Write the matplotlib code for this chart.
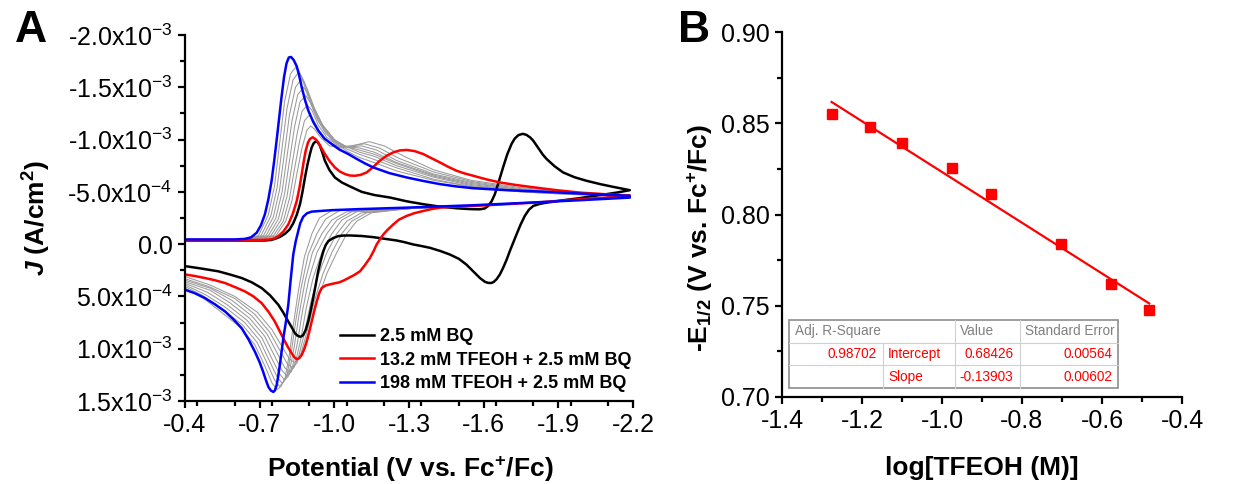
import numpy as np
import matplotlib
matplotlib.use("Agg")
import matplotlib.pyplot as plt
from matplotlib.ticker import MultipleLocator, FixedLocator, FixedFormatter, FormatStrFormatter

plt.rcParams['font.family'] = ['Liberation Sans', 'DejaVu Sans']
plt.rcParams['mathtext.fontset'] = 'custom'
plt.rcParams['mathtext.rm'] = 'Liberation Sans'
plt.rcParams['mathtext.it'] = 'Liberation Sans:italic:bold'
plt.rcParams['mathtext.bf'] = 'Liberation Sans:bold'
plt.rcParams['axes.unicode_minus'] = False

# ---------------- panel A : cyclic voltammograms (E in V, J in mA/cm2) ----------------
black_E = [-0.40, -0.72, -0.745, -0.761, -0.782, -0.802, -0.82, -0.835, -0.849, -0.862, -0.872, -0.882, -0.892,
           -0.902, -0.909, -0.917, -0.926, -0.934, -0.942, -0.952, -0.962, -0.98, -1.002, -1.03, -1.06, -1.11,
           -1.16, -1.223, -1.29, -1.357, -1.42, -1.491, -1.545, -1.585, -1.605, -1.618, -1.632, -1.645, -1.661,
           -1.678, -1.695, -1.712, -1.725, -1.74, -1.757, -1.772, -1.787, -1.799, -1.812, -1.825, -1.838, -1.853,
           -1.885, -1.919, -1.965, -2.013, -2.07, -2.12, -2.187,
           -2.14, -2.093, -2.04, -1.986, -1.92, -1.853, -1.825, -1.799, -1.782, -1.765, -1.748, -1.732, -1.718,
           -1.705, -1.692, -1.678, -1.665, -1.652, -1.64, -1.630, -1.617, -1.605, -1.585, -1.56, -1.531, -1.50,
           -1.464, -1.425, -1.384, -1.35, -1.317, -1.28, -1.25, -1.20, -1.156, -1.11, -1.063, -1.035, -1.016,
           -0.995, -0.976, -0.965, -0.956, -0.945, -0.935, -0.925, -0.915, -0.905, -0.895, -0.885, -0.875, -0.868,
           -0.862, -0.852, -0.842, -0.83, -0.815, -0.795, -0.775, -0.742, -0.708, -0.668, -0.628, -0.58, -0.534,
           -0.47, -0.40]
black_J = [-0.035, -0.035, -0.04, -0.05, -0.07, -0.10, -0.14, -0.20, -0.28, -0.382, -0.50, -0.638, -0.76,
           -0.862, -0.925, -0.965, -0.984, -0.972, -0.942, -0.875, -0.798, -0.71, -0.638, -0.59, -0.555, -0.50,
           -0.47, -0.446, -0.41, -0.382, -0.36, -0.343, -0.335, -0.333, -0.342, -0.365, -0.41, -0.478, -0.60,
           -0.734, -0.86, -0.958, -1.01, -1.043, -1.055, -1.045, -1.02, -0.99, -0.945, -0.90, -0.855, -0.814,
           -0.745, -0.686, -0.64, -0.606, -0.573, -0.548, -0.516,
           -0.495, -0.478, -0.46, -0.44, -0.42, -0.397, -0.385, -0.365, -0.33, -0.269, -0.185, -0.093, -0.01,
           0.067, 0.15, 0.228, 0.29, 0.335, 0.362, 0.372, 0.37, 0.36, 0.324, 0.265, 0.196, 0.14,
           0.099, 0.065, 0.035, 0.018, 0.003, -0.02, -0.035, -0.052, -0.067, -0.078, -0.083, -0.082, -0.077,
           -0.058, -0.029, 0.01, 0.067, 0.16, 0.26, 0.39, 0.516, 0.635, 0.74, 0.82, 0.869, 0.882,
           0.885, 0.875, 0.853, 0.80, 0.74, 0.655, 0.58, 0.49, 0.42, 0.365, 0.324, 0.29, 0.26,
           0.235, 0.21]

red_E = [-0.40, -0.70, -0.74, -0.76, -0.775, -0.795, -0.815, -0.833, -0.849, -0.86, -0.869, -0.877, -0.885,
         -0.894, -0.902, -0.913, -0.924, -0.935, -0.948, -0.962, -0.982, -1.002, -1.022, -1.043, -1.063, -1.083,
         -1.105, -1.13, -1.155, -1.183, -1.21, -1.237, -1.263, -1.29, -1.322, -1.357, -1.39, -1.424, -1.457,
         -1.491, -1.525, -1.558, -1.61, -1.665, -1.726, -1.786, -1.886, -1.986, -2.09, -2.187,
         -2.09, -1.986, -1.826, -1.60, -1.50, -1.424, -1.39, -1.357, -1.32, -1.29, -1.26, -1.237, -1.215,
         -1.197, -1.183, -1.17, -1.157, -1.143, -1.123, -1.103, -1.08, -1.06, -1.04, -1.02, -0.989, -0.965,
         -0.949, -0.939, -0.929, -0.919, -0.909, -0.899, -0.889, -0.879, -0.869, -0.859, -0.849, -0.839, -0.829,
         -0.815, -0.802, -0.782, -0.761, -0.735, -0.708, -0.675, -0.641, -0.60, -0.561, -0.52, -0.48, -0.44, -0.40]
red_J = [-0.04, -0.04, -0.045, -0.057, -0.077, -0.12, -0.189, -0.29, -0.413, -0.54, -0.67, -0.79, -0.894,
         -0.97, -1.006, -1.022, -1.005, -0.974, -0.92, -0.862, -0.79, -0.734, -0.695, -0.67, -0.656, -0.654,
         -0.662, -0.686, -0.735, -0.798, -0.845, -0.878, -0.896, -0.901, -0.89, -0.862, -0.822, -0.782, -0.74,
         -0.702, -0.675, -0.654, -0.62, -0.59, -0.567, -0.548, -0.518, -0.493, -0.477, -0.465,
         -0.445, -0.43, -0.40, -0.37, -0.36, -0.349, -0.335, -0.317, -0.295, -0.269, -0.235, -0.189, -0.14,
         -0.093, -0.045, 0.003, 0.07, 0.132, 0.20, 0.26, 0.295, 0.32, 0.345, 0.365, 0.381, 0.395,
         0.42, 0.47, 0.548, 0.64, 0.74, 0.84, 0.933, 1.005, 1.06, 1.09, 1.10, 1.08, 1.045,
         0.99, 0.933, 0.84, 0.74, 0.645, 0.564, 0.50, 0.452, 0.41, 0.372, 0.345, 0.324, 0.305, 0.29]

blue_E = [-0.40, -0.60, -0.64, -0.665, -0.688, -0.705, -0.721, -0.735, -0.748, -0.758, -0.768, -0.778, -0.788,
          -0.798, -0.808, -0.817, -0.826, -0.837, -0.849, -0.859, -0.869, -0.882, -0.895, -0.915, -0.935, -0.96,
          -0.989, -1.02, -1.056, -1.09, -1.123, -1.156, -1.22, -1.29, -1.36, -1.424, -1.49, -1.557, -1.692,
          -1.826, -1.986, -2.187,
          -2.187, -1.986, -1.786, -1.557, -1.29, -1.10, -0.989, -0.909, -0.89, -0.875, -0.863, -0.855, -0.845,
          -0.835, -0.825, -0.815, -0.805, -0.795, -0.788, -0.781, -0.774, -0.768, -0.761, -0.755, -0.745, -0.735,
          -0.725, -0.714, -0.70, -0.681, -0.655, -0.628, -0.595, -0.561, -0.52, -0.48, -0.44, -0.40]
blue_J = [-0.045, -0.045, -0.05, -0.065, -0.109, -0.18, -0.285, -0.43, -0.606, -0.79, -0.99, -1.20, -1.41,
          -1.60, -1.73, -1.785, -1.79, -1.76, -1.70, -1.61, -1.50, -1.38, -1.28, -1.17, -1.087, -1.01,
          -0.958, -0.905, -0.862, -0.815, -0.772, -0.734, -0.68, -0.638, -0.603, -0.574, -0.552, -0.535, -0.516,
          -0.503, -0.484, -0.462,
          -0.445, -0.42, -0.397, -0.372, -0.349, -0.335, -0.325, -0.311, -0.295, -0.262, -0.20, -0.125, -0.029,
          0.099, 0.33, 0.58, 0.75, 0.90, 1.03, 1.157, 1.27, 1.35, 1.40, 1.413, 1.40, 1.365,
          1.30, 1.221, 1.13, 1.029, 0.91, 0.805, 0.72, 0.644, 0.575, 0.516, 0.47, 0.436]

# intermediate TFEOH additions (grey curves), forward then reverse scan
gray_E = [
    [-0.40, -0.70, -0.765, -0.805, -0.830, -0.850, -0.870, -0.890, -0.905, -0.920, -0.945, -0.98, -1.03, -1.09, -1.14,
     -1.20, -1.28, -1.40, -1.55, -1.75, -1.95, -2.19,
     -1.90, -1.60, -1.30, -1.15, -1.09, -1.05, -1.01, -0.97, -0.935, -0.905, -0.88, -0.86, -0.84, -0.82, -0.79, -0.75,
     -0.69, -0.60, -0.50, -0.40],
    [-0.40, -0.68, -0.755, -0.795, -0.820, -0.840, -0.860, -0.880, -0.898, -0.915, -0.94, -0.975, -1.02, -1.07, -1.12,
     -1.18, -1.26, -1.40, -1.55, -1.75, -1.95, -2.19,
     -1.90, -1.60, -1.30, -1.13, -1.07, -1.03, -0.99, -0.955, -0.92, -0.892, -0.868, -0.849, -0.83, -0.81, -0.78, -0.74,
     -0.68, -0.60, -0.50, -0.40],
    [-0.40, -0.66, -0.745, -0.785, -0.810, -0.830, -0.850, -0.870, -0.892, -0.91, -0.935, -0.97, -1.01, -1.06, -1.11,
     -1.17, -1.25, -1.40, -1.55, -1.75, -1.95, -2.19,
     -1.90, -1.60, -1.30, -1.11, -1.05, -1.01, -0.97, -0.935, -0.905, -0.879, -0.856, -0.838, -0.82, -0.80, -0.77, -0.73,
     -0.67, -0.59, -0.50, -0.40],
    [-0.40, -0.65, -0.735, -0.775, -0.800, -0.820, -0.840, -0.862, -0.885, -0.905, -0.93, -0.965, -1.00, -1.05, -1.10,
     -1.16, -1.25, -1.40, -1.55, -1.75, -1.95, -2.19,
     -1.90, -1.60, -1.30, -1.09, -1.03, -0.99, -0.95, -0.915, -0.888, -0.866, -0.845, -0.827, -0.81, -0.79, -0.76, -0.72,
     -0.66, -0.58, -0.50, -0.40],
    [-0.40, -0.64, -0.725, -0.765, -0.790, -0.810, -0.830, -0.853, -0.877, -0.898, -0.925, -0.96, -1.00, -1.05, -1.10,
     -1.16, -1.25, -1.40, -1.55, -1.75, -1.95, -2.19,
     -1.90, -1.60, -1.30, -1.07, -1.01, -0.97, -0.93, -0.897, -0.872, -0.852, -0.833, -0.816, -0.80, -0.78, -0.75, -0.71,
     -0.65, -0.57, -0.49, -0.40],
    [-0.40, -0.63, -0.715, -0.755, -0.780, -0.800, -0.820, -0.844, -0.868, -0.89, -0.92, -0.955, -1.00, -1.05, -1.10,
     -1.16, -1.25, -1.40, -1.55, -1.75, -1.95, -2.19,
     -1.90, -1.60, -1.30, -1.05, -0.99, -0.95, -0.912, -0.882, -0.858, -0.839, -0.821, -0.805, -0.79, -0.77, -0.74, -0.70,
     -0.64, -0.56, -0.48, -0.40],
    [-0.40, -0.62, -0.705, -0.745, -0.770, -0.790, -0.810, -0.834, -0.858, -0.88, -0.91, -0.95, -1.00, -1.05, -1.10,
     -1.16, -1.25, -1.40, -1.55, -1.75, -1.95, -2.19,
     -1.90, -1.60, -1.30, -1.02, -0.965, -0.93, -0.895, -0.868, -0.846, -0.828, -0.811, -0.795, -0.78, -0.76, -0.73, -0.69,
     -0.63, -0.55, -0.47, -0.40],
    [-0.40, -0.61, -0.695, -0.735, -0.760, -0.780, -0.800, -0.824, -0.848, -0.87, -0.90, -0.94, -0.99, -1.05, -1.10,
     -1.16, -1.25, -1.40, -1.55, -1.75, -1.95, -2.19,
     -1.90, -1.60, -1.30, -0.99, -0.94, -0.91, -0.88, -0.856, -0.836, -0.819, -0.802, -0.786, -0.77, -0.75, -0.72, -0.68,
     -0.62, -0.54, -0.47, -0.40],
]
gray_J = [
    [-0.04, -0.04, -0.08, -0.22, -0.42, -0.68, -0.92, -1.09, -1.13, -1.10, -1.02, -0.94, -0.92, -0.95, -0.98,
     -0.94, -0.84, -0.71, -0.61, -0.54, -0.50, -0.47,
     -0.41, -0.375, -0.34, -0.30, -0.22, -0.10, 0.08, 0.28, 0.52, 0.78, 0.98, 1.09, 1.13, 1.10, 0.98, 0.82,
     0.65, 0.50, 0.39, 0.31],
    [-0.04, -0.04, -0.08, -0.22, -0.44, -0.72, -0.98, -1.18, -1.23, -1.19, -1.08, -0.98, -0.93, -0.94, -0.96,
     -0.92, -0.82, -0.69, -0.60, -0.53, -0.49, -0.465,
     -0.41, -0.375, -0.34, -0.30, -0.22, -0.10, 0.08, 0.28, 0.54, 0.82, 1.03, 1.14, 1.18, 1.14, 1.01, 0.84,
     0.67, 0.52, 0.41, 0.33],
    [-0.04, -0.04, -0.08, -0.23, -0.46, -0.76, -1.05, -1.27, -1.33, -1.28, -1.14, -1.02, -0.95, -0.93, -0.94,
     -0.90, -0.80, -0.67, -0.59, -0.52, -0.49, -0.465,
     -0.41, -0.375, -0.34, -0.30, -0.22, -0.10, 0.08, 0.30, 0.56, 0.86, 1.08, 1.18, 1.22, 1.18, 1.04, 0.86,
     0.69, 0.54, 0.42, 0.345],
    [-0.04, -0.04, -0.08, -0.24, -0.48, -0.80, -1.12, -1.36, -1.42, -1.35, -1.20, -1.06, -0.98, -0.93, -0.92,
     -0.88, -0.78, -0.66, -0.58, -0.52, -0.49, -0.465,
     -0.41, -0.375, -0.34, -0.31, -0.23, -0.10, 0.08, 0.32, 0.60, 0.90, 1.12, 1.22, 1.26, 1.21, 1.07, 0.88,
     0.71, 0.56, 0.44, 0.36],
    [-0.04, -0.04, -0.08, -0.25, -0.50, -0.84, -1.18, -1.43, -1.50, -1.42, -1.25, -1.10, -0.99, -0.93, -0.90,
     -0.86, -0.77, -0.65, -0.57, -0.51, -0.48, -0.46,
     -0.41, -0.375, -0.34, -0.31, -0.23, -0.10, 0.08, 0.34, 0.64, 0.94, 1.16, 1.26, 1.30, 1.24, 1.10, 0.90,
     0.73, 0.58, 0.46, 0.375],
    [-0.04, -0.04, -0.08, -0.26, -0.52, -0.88, -1.24, -1.50, -1.58, -1.49, -1.30, -1.13, -1.00, -0.93, -0.88,
     -0.84, -0.75, -0.64, -0.56, -0.51, -0.48, -0.46,
     -0.41, -0.375, -0.34, -0.31, -0.23, -0.10, 0.08, 0.36, 0.68, 0.98, 1.20, 1.29, 1.33, 1.27, 1.12, 0.92,
     0.75, 0.60, 0.48, 0.39],
    [-0.04, -0.04, -0.08, -0.27, -0.54, -0.92, -1.30, -1.57, -1.65, -1.55, -1.34, -1.15, -1.00, -0.91, -0.86,
     -0.81, -0.73, -0.62, -0.55, -0.50, -0.475, -0.46,
     -0.41, -0.375, -0.34, -0.32, -0.24, -0.10, 0.10, 0.40, 0.72, 1.02, 1.24, 1.32, 1.36, 1.30, 1.14, 0.94,
     0.77, 0.62, 0.49, 0.405],
    [-0.04, -0.04, -0.08, -0.28, -0.56, -0.96, -1.36, -1.63, -1.70, -1.59, -1.37, -1.16, -1.00, -0.89, -0.83,
     -0.78, -0.70, -0.61, -0.55, -0.50, -0.475, -0.46,
     -0.41, -0.375, -0.34, -0.32, -0.25, -0.10, 0.12, 0.44, 0.76, 1.06, 1.28, 1.36, 1.39, 1.33, 1.16, 0.96,
     0.79, 0.64, 0.51, 0.42],
]

legend_labels = ['2.5 mM BQ', '13.2 mM TFEOH + 2.5 mM BQ', '198 mM TFEOH + 2.5 mM BQ']
a_xticks = [-0.4, -0.7, -1.0, -1.3, -1.6, -1.9, -2.2]
a_yticks = [-2.0e-3, -1.5e-3, -1.0e-3, -5.0e-4, 0.0, 5.0e-4, 1.0e-3, 1.5e-3]
a_ylabels = ['-2.0x10$^{-3}$', '-1.5x10$^{-3}$', '-1.0x10$^{-3}$', '-5.0x10$^{-4}$', '0.0',
             '5.0x10$^{-4}$', '1.0x10$^{-3}$', '1.5x10$^{-3}$']

# ---------------- panel B : E1/2 vs log[TFEOH] ----------------
log_acid = [-1.276, -1.180, -1.101, -0.974, -0.878, -0.703, -0.578, -0.482]
e_half = [0.855, 0.848, 0.839, 0.8255, 0.8115, 0.784, 0.762, 0.7475]
fit_intercept = 0.68426
fit_slope = -0.13903
fit_table = [['Adj. R-Square', '', 'Value', 'Standard Error'],
             ['0.98702', 'Intercept', '0.68426', '0.00564'],
             ['', 'Slope', '-0.13903', '0.00602']]

fig = plt.figure(figsize=(12.54, 4.84), dpi=100)
W, H = 1254, 484

def px_axes(l, r, t, b):
    return fig.add_axes([l / W, 1 - b / H, (r - l) / W, (b - t) / H])

tick_fs = 18
lab_fs = 19

# ---- A ----
axA = px_axes(185, 633, 35, 401)
for ge, gj in zip(gray_E, gray_J):
    axA.plot(ge, np.array(gj) * 1e-3, color='#9a9a9a', lw=0.75)
lb, = axA.plot(black_E, np.array(black_J) * 1e-3, color='black', lw=1.8)
lr, = axA.plot(red_E, np.array(red_J) * 1e-3, color='#ff0000', lw=1.8)
lbl, = axA.plot(blue_E, np.array(blue_J) * 1e-3, color='#0000ff', lw=1.8)

axA.set_xlim(-0.4, -2.2)
axA.set_ylim(1.5e-3, -2.0e-3)
axA.xaxis.set_major_locator(FixedLocator(a_xticks))
axA.xaxis.set_major_formatter(FormatStrFormatter('%.1f'))
axA.xaxis.set_minor_locator(MultipleLocator(0.15))
axA.yaxis.set_major_locator(FixedLocator(a_yticks))
axA.yaxis.set_major_formatter(FixedFormatter(a_ylabels))
axA.yaxis.set_minor_locator(MultipleLocator(2.5e-4))

leg = axA.legend([lb, lr, lbl], legend_labels, loc='upper left', bbox_to_anchor=(0.346, 0.199),
                 frameon=False, handlelength=1.9, handletextpad=0.3, labelspacing=0.36,
                 borderpad=0, borderaxespad=0, prop={'weight': 'bold', 'size': 13})

fig.text(410 / W, 1 - 469 / H, 'Potential (V vs. Fc$^{\\mathbf{+}}$/Fc)', fontsize=lab_fs,
         fontweight='bold', ha='center', va='center')
fig.text(37 / W, 1 - 218 / H, '$J$ (A/cm$^{\\mathbf{2}}$)', fontsize=lab_fs, fontweight='bold',
         rotation=90, ha='center', va='center')

# ---- B ----
axB = px_axes(782, 1182, 32, 397)
xfit = np.array([log_acid[0], log_acid[-1]])
axB.plot(xfit, fit_intercept + fit_slope * xfit, color='#ff0000', lw=1.6)
axB.plot(log_acid, e_half, 's', color='#ff0000', ms=6.5)
axB.set_xlim(-1.4, -0.4)
axB.set_ylim(0.70, 0.90)
axB.xaxis.set_major_locator(MultipleLocator(0.2))
axB.xaxis.set_minor_locator(MultipleLocator(0.1))
axB.xaxis.set_major_formatter(FormatStrFormatter('%.1f'))
axB.yaxis.set_major_locator(MultipleLocator(0.05))
axB.yaxis.set_minor_locator(MultipleLocator(0.025))
axB.yaxis.set_major_formatter(FormatStrFormatter('%.2f'))
fig.text(982 / W, 1 - 468 / H, 'log[TFEOH (M)]', fontsize=lab_fs, fontweight='bold', ha='center', va='center')
fig.text(700 / W, 1 - 238 / H, '-E$_{\\mathbf{1/2}}$ (V vs. Fc$^{\\mathbf{+}}$/Fc)', fontsize=lab_fs,
         fontweight='bold', rotation=90, ha='center', va='center')

# fit result table
cols = [0.0175, 0.2525, 0.4325, 0.595, 0.84]
rows = [0.211, 0.1488, 0.0877, 0.0247]
tab_kw = dict(transform=axB.transAxes, clip_on=False)
axB.add_patch(plt.Rectangle((cols[0], rows[3]), cols[4] - cols[0], rows[0] - rows[3], fill=True,
                            facecolor='white', edgecolor='#8c8c8c', lw=1.2, zorder=5, **tab_kw))
for yy in rows[1:3]:
    axB.plot([cols[0], cols[4]], [yy, yy], color='#d0d0d0', lw=0.8, zorder=6, **tab_kw)
for xx in cols[2:4]:
    axB.plot([xx, xx], [rows[3], rows[0]], color='#d0d0d0', lw=0.8, zorder=6, **tab_kw)
axB.plot([cols[1], cols[1]], [rows[3], rows[1]], color='#d0d0d0', lw=0.8, zorder=6, **tab_kw)
row_y = [0.181, 0.118, 0.056]
tfs = 9.8
txt_kw = dict(fontsize=tfs, va='center', zorder=7, transform=axB.transAxes)
axB.text(0.0325, row_y[0], fit_table[0][0], color='#808080', ha='left', **txt_kw)
axB.text(0.445, row_y[0], fit_table[0][2], color='#808080', ha='left', **txt_kw)
axB.text(0.6075, row_y[0], fit_table[0][3], color='#808080', ha='left', **txt_kw)
for r in (1, 2):
    axB.text(0.2367, row_y[r], fit_table[r][0], color='#ff0000', ha='right', **txt_kw)
    axB.text(0.265, row_y[r], fit_table[r][1], color='#ff0000', ha='left', **txt_kw)
    axB.text(0.578, row_y[r], fit_table[r][2], color='#ff0000', ha='right', **txt_kw)
    axB.text(0.825, row_y[r], fit_table[r][3], color='#ff0000', ha='right', **txt_kw)

for ax in (axA, axB):
    ax.spines['top'].set_visible(False)
    ax.spines['right'].set_visible(False)
    for s in ('left', 'bottom'):
        ax.spines[s].set_linewidth(1.6)
    ax.tick_params(which='major', direction='out', length=5, width=1.6, labelsize=tick_fs, pad=4)
    ax.tick_params(which='minor', direction='out', length=3.5, width=1.6)

fig.text(15 / W, 1 - 31 / H, 'A', fontsize=32, fontweight='bold', va='center', ha='left')
fig.text(678 / W, 1 - 31 / H, 'B', fontsize=32, fontweight='bold', va='center', ha='left')

fig.savefig('out.png', dpi=100)
